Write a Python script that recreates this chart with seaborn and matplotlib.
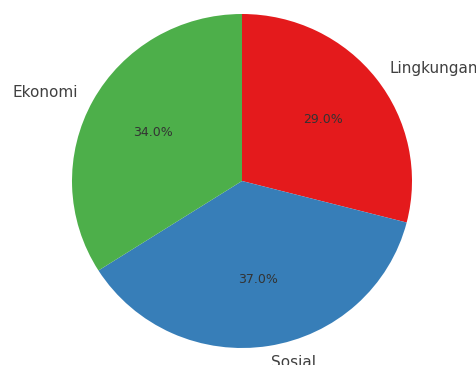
import matplotlib
matplotlib.use("Agg")
import matplotlib.pyplot as plt
import seaborn as sns

sns.set_theme(style="white")

categories = ["Lingkungan", "Sosial", "Ekonomi"]
shares = [29.0, 37.0, 34.0]
colors = sns.color_palette("Set1", 3)

fig = plt.figure(figsize=(4.76, 3.65), dpi=100)
ax = fig.add_axes([0, 0, 1, 1])
wedges, texts, autotexts = ax.pie(
    shares,
    labels=categories,
    colors=colors,
    autopct="%1.1f%%",
    startangle=90,
    counterclock=False,
    wedgeprops={"linewidth": 0},
    textprops={"fontsize": 11, "color": ".25"},
)
for t in autotexts:
    t.set_fontsize(9)
    t.set_color(".2")

# place the pie like the reference (centre ~242,181 px, radius ~170 x 167 px)
sx, sy = 170.0, 167.0
ax.set_aspect("auto")
ax.set_xlim(-242 / sx, (476 - 242) / sx)
ax.set_ylim(-184 / sy, 181 / sy)
ax.axis("off")

fig.savefig("out.png", dpi=100)
